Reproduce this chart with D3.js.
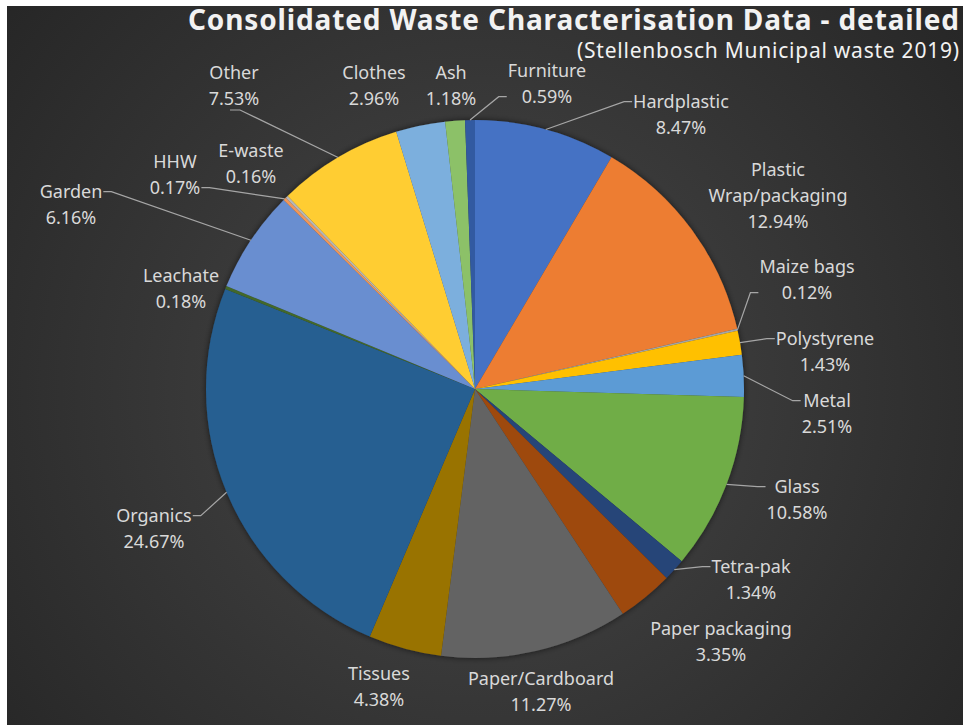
<!DOCTYPE html>
<html>
<head>
<meta charset="utf-8">
<script src="https://cdn.jsdelivr.net/npm/d3@7"></script>
<style>
  html, body { margin: 0; padding: 0; background: #fff; }
  svg { display: block; }
  text { font-family: "Noto Sans", "Open Sans", sans-serif; }
</style>
</head>
<body>
<div id="chart"></div>
<script>
// Waste categories, clockwise from 12 o'clock
var categories = ["Hardplastic", "Plastic\nWrap/packaging", "Maize bags", "Polystyrene", "Metal",
  "Glass", "Tetra-pak", "Paper packaging", "Paper/Cardboard", "Tissues", "Organics", "Leachate",
  "Garden", "HHW", "E-waste", "Other", "Clothes", "Ash", "Furniture"];
// share of total, %
var shares = [8.47, 12.94, 0.12, 1.43, 2.51, 10.58, 1.34, 3.35, 11.27, 4.38, 24.67, 0.18,
  6.16, 0.17, 0.16, 7.53, 2.96, 1.18, 0.59];
var colors = ["#4472C4", "#ED7D31", "#A5A5A5", "#FFC000", "#5B9BD5", "#70AD47", "#264478",
  "#9E480E", "#636363", "#997300", "#255E91", "#43682B", "#698ED0", "#F1975A", "#B7B7B7",
  "#FFCD33", "#7CAFDD", "#8CC168", "#335AA1"];

var title = "Consolidated Waste Characterisation Data - detailed";
var subtitle = "(Stellenbosch Municipal waste 2019)";

// label layout: centre x, first baseline, leader attach side, attach line
var labelLayout = [
  [681, 108, "l", 0], [778, 176, "l", 1], [807, 273, "l", 1], [825, 345, "l", 0],
  [827, 407, "l", 0], [797, 493, "l", 0], [751, 573, "l", 0], [721, 635, "l", 0],
  [541, 685, "t", 0], [379, 680, "t", 0], [154, 522, "r", 0], [181, 282, "r", 0],
  [71, 198, "r", 0], [175, 168, "r", 1], [251, 157, "r", 1], [234, 79, "b", 1],
  [374, 79, "r", 1], [451, 79, "b", 1], [547, 77, "l", 1]
];

var svgWidth = 963;
var svgHeight = 725;
var cx = 475, cy = 389, radius = 269;
var lineH = 26;

var svg = d3.select("#chart")
  .append("svg")
  .attr("width", svgWidth)
  .attr("height", svgHeight);

var defs = svg.append("defs");
var bg = defs.append("radialGradient")
  .attr("id", "bg")
  .attr("gradientUnits", "userSpaceOnUse")
  .attr("cx", 480).attr("cy", 390).attr("r", 620);
bg.append("stop").attr("offset", "0%").attr("stop-color", "#484848");
bg.append("stop").attr("offset", "100%").attr("stop-color", "#262626");

var shadow = defs.append("filter").attr("id", "shadow")
  .attr("x", "-10%").attr("y", "-10%").attr("width", "120%").attr("height", "120%");
shadow.append("feDropShadow")
  .attr("dx", 0).attr("dy", 0).attr("stdDeviation", 3)
  .attr("flood-color", "#000").attr("flood-opacity", 0.6);

// chart area (white strip left and top like the screenshot)
svg.append("rect")
  .attr("x", 7).attr("y", 6)
  .attr("width", svgWidth - 7).attr("height", svgHeight - 6)
  .attr("fill", "url(#bg)");

// title
svg.append("text")
  .attr("x", 188).attr("y", 30)
  .attr("textLength", 771)
  .attr("lengthAdjust", "spacing")
  .style("font-size", "28px")
  .style("font-weight", "bold")
  .attr("fill", "#f2f2f2")
  .text(title);

svg.append("text")
  .attr("x", 577).attr("y", 58)
  .attr("textLength", 382)
  .attr("lengthAdjust", "spacing")
  .style("font-size", "21px")
  .attr("fill", "#f2f2f2")
  .text(subtitle);

var data = categories.map(function(c, i) {
  return {name: c, value: shares[i], color: colors[i], layout: labelLayout[i]};
});

var pie = d3.pie().sort(null).value(function(d) { return d.value; });
var arc = d3.arc().innerRadius(0).outerRadius(radius);
var arcs = pie(data);

var chartGroup = svg.append("g")
  .attr("transform", "translate(" + cx + "," + cy + ")");

chartGroup.append("g")
  .attr("filter", "url(#shadow)")
  .selectAll("path")
  .data(arcs)
  .enter()
  .append("path")
  .attr("d", arc)
  .attr("fill", function(d) { return d.data.color; });

// labels
var fontSize = 18;
var labelGroup = svg.append("g");

arcs.forEach(function(a) {
  var lay = a.data.layout;
  var lines = a.data.name.split("\n").concat([d3.format(".2f")(a.data.value) + "%"]);
  var t = labelGroup.append("text")
    .attr("text-anchor", "middle")
    .attr("fill", "#d9d9d9")
    .style("font-size", fontSize + "px");
  lines.forEach(function(l, k) {
    t.append("tspan").attr("x", lay[0]).attr("y", lay[1] + k * lineH).text(l);
  });
  var bb = t.node().getBBox();

  // point on the rim at the slice's mid angle
  var mid = (a.startAngle + a.endAngle) / 2;
  var px = cx + radius * Math.sin(mid);
  var py = cy - radius * Math.cos(mid);

  // distance from rim point to label box
  var dx = Math.max(bb.x - px, 0, px - (bb.x + bb.width));
  var dy = Math.max(bb.y - py, 0, py - (bb.y + bb.height));
  if (Math.sqrt(dx * dx + dy * dy) < 26) return;

  var lineMid = lay[1] + lay[3] * lineH - fontSize * 0.35;
  var pts;
  if (lay[2] === "l") {
    var ax = bb.x - 1;
    pts = [[ax, lineMid], [ax - 8, lineMid], [px, py]];
  } else if (lay[2] === "r") {
    var ax2 = bb.x + bb.width + 1;
    pts = [[ax2, lineMid], [ax2 + 8, lineMid], [px, py]];
  } else if (lay[2] === "b") {
    var by = bb.y + bb.height;
    pts = [[lay[0] - 4, by], [lay[0] + 6, by], [px, py]];
  } else {
    pts = [[lay[0], bb.y], [px, py]];
  }
  labelGroup.append("path")
    .attr("d", d3.line()(pts))
    .attr("fill", "none")
    .attr("stroke", "#a6a6a6")
    .attr("stroke-width", 1.2);
});
</script>
</body>
</html>
